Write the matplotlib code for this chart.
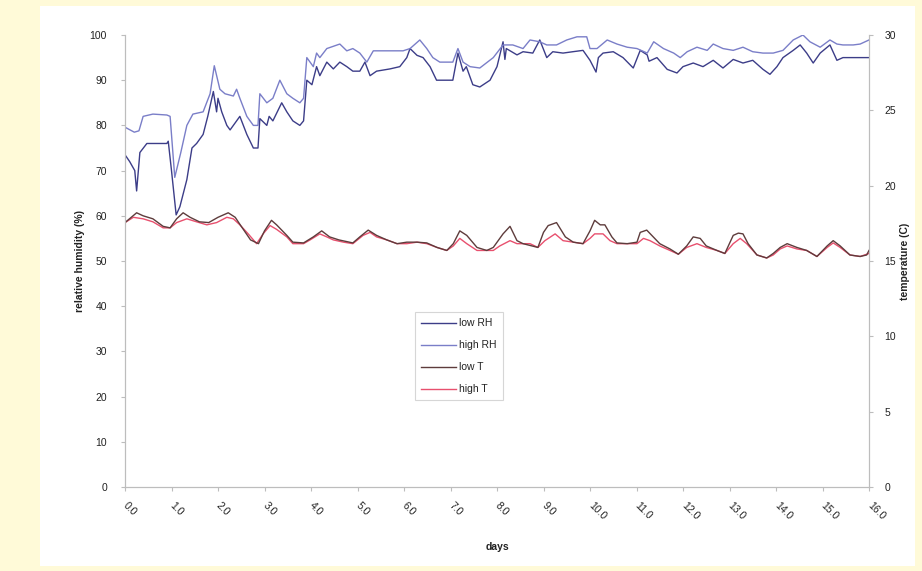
import matplotlib
matplotlib.use("Agg")
import matplotlib.pyplot as plt
from matplotlib.patches import Rectangle

plt.rcParams['font.family'] = ['Liberation Sans', 'DejaVu Sans']

# ---------------- data ----------------
high_rh_day = [0.0, 0.2, 0.3, 0.39, 0.6, 0.9, 0.97, 1.07, 1.2, 1.33, 1.46, 1.68, 1.83, 1.92,
               2.04, 2.15, 2.33, 2.4, 2.47, 2.62, 2.76, 2.86, 2.9, 3.05, 3.18, 3.33, 3.48,
               3.61, 3.76, 3.84, 3.91, 4.05, 4.12, 4.19, 4.34, 4.48, 4.62, 4.77, 4.9, 5.05,
               5.2, 5.34, 5.55, 5.76, 5.98, 6.13, 6.34, 6.49, 6.62, 6.77, 7.05, 7.16, 7.27,
               7.42, 7.63, 7.92, 8.13, 8.34, 8.56, 8.71, 8.92, 9.07, 9.28, 9.5, 9.72, 9.93,
               10.0, 10.15, 10.37, 10.58, 10.8, 11.01, 11.23, 11.37, 11.58, 11.8, 11.94,
               12.09, 12.3, 12.52, 12.65, 12.86, 13.08, 13.29, 13.5, 13.72, 13.94, 14.15,
               14.37, 14.58, 14.73, 14.95, 15.16, 15.31, 15.44, 15.66, 15.81, 16.0]
high_rh = [79.6, 78.5, 78.8, 82.0, 82.5, 82.3, 82.0, 68.5, 74.0, 80.0, 82.5, 83.0, 87.0, 93.2,
           88.0, 87.0, 86.5, 88.0, 86.0, 82.0, 80.0, 80.0, 87.0, 85.0, 86.0, 90.0, 87.0,
           86.0, 85.0, 86.0, 95.0, 93.0, 96.0, 95.0, 97.0, 97.5, 98.0, 96.5, 97.0, 96.0,
           94.0, 96.5, 96.5, 96.5, 96.5, 97.0, 98.9, 97.0, 95.0, 94.0, 94.0, 97.0, 94.0,
           93.0, 92.7, 95.0, 97.8, 97.8, 97.0, 98.9, 98.5, 97.8, 97.8, 98.9, 99.6, 99.6,
           97.0, 97.0, 98.9, 98.0, 97.3, 97.0, 96.0, 98.5, 97.0, 96.0, 95.0,
           96.3, 97.3, 96.6, 98.0, 97.0, 96.6, 97.3, 96.3, 96.0, 96.0, 96.6,
           98.9, 100.0, 98.5, 97.3, 98.9, 98.0, 97.8, 97.8, 98.0, 98.9]

low_rh_day = [0.0, 0.1, 0.21, 0.25, 0.32, 0.47, 0.9, 0.93, 1.0, 1.1, 1.18, 1.33, 1.44, 1.54,
              1.68, 1.78, 1.9, 1.97, 2.0, 2.08, 2.19, 2.26, 2.4, 2.47, 2.62, 2.76, 2.86,
              2.9, 3.05, 3.1, 3.18, 3.37, 3.48, 3.61, 3.76, 3.84, 3.91, 4.02, 4.12, 4.19,
              4.34, 4.48, 4.62, 4.77, 4.9, 5.05, 5.16, 5.27, 5.41, 5.7, 5.91, 6.06, 6.13,
              6.28, 6.41, 6.56, 6.7, 6.92, 7.05, 7.16, 7.27, 7.34, 7.48, 7.63, 7.85, 8.0,
              8.13, 8.17, 8.2, 8.43, 8.56, 8.77, 8.92, 9.07, 9.2, 9.42, 9.63, 9.85, 10.0,
              10.13, 10.18, 10.28, 10.5, 10.71, 10.93, 11.08, 11.23, 11.27, 11.44, 11.66,
              11.87, 12.0, 12.22, 12.43, 12.65, 12.86, 13.08, 13.29, 13.5, 13.72, 13.87,
              14.02, 14.15, 14.37, 14.52, 14.66, 14.8, 14.95, 15.16, 15.31, 15.44, 15.66,
              15.87, 16.0]
low_rh = [73.5, 72.0, 70.0, 65.5, 74.0, 76.0, 76.0, 76.5, 70.0, 60.2, 62.0, 68.0, 75.0, 76.0,
          78.0, 82.0, 87.5, 83.0, 86.0, 83.0, 80.0, 79.0, 81.0, 82.0, 78.0, 75.0, 75.0,
          81.5, 80.0, 82.0, 81.0, 85.0, 83.0, 81.0, 80.0, 81.0, 90.0, 89.0, 93.0, 91.0,
          94.0, 92.5, 94.0, 93.0, 92.0, 92.0, 94.0, 91.0, 92.0, 92.5, 93.0, 95.0, 97.0,
          95.5, 95.0, 93.0, 90.0, 90.0, 90.0, 96.0, 92.0, 93.0, 89.0, 88.5, 90.0, 93.0,
          98.5, 94.6, 97.0, 95.6, 96.3, 96.0, 98.9, 95.0, 96.3, 96.0, 96.3, 96.6, 94.4,
          91.8, 95.0, 96.0, 96.3, 95.0, 92.7, 96.6, 95.6, 94.2, 95.0, 92.4,
          91.6, 93.0, 93.8, 93.0, 94.4, 92.7, 94.6, 93.8, 94.4, 92.4, 91.3,
          93.0, 95.0, 96.6, 97.8, 96.0, 93.8, 96.0, 97.8, 94.4, 95.0, 95.0,
          95.0, 95.0]

high_t_day = [0.0, 0.18, 0.39, 0.6, 0.82, 0.97, 1.11, 1.33, 1.54, 1.76, 1.97, 2.19, 2.33,
              2.47, 2.65, 2.83, 2.97, 3.12, 3.26, 3.48, 3.61, 3.84, 3.98, 4.19, 4.34, 4.48,
              4.7, 4.9, 5.12, 5.27, 5.41, 5.63, 5.85, 6.06, 6.28, 6.49, 6.71, 6.92, 7.06,
              7.2, 7.35, 7.57, 7.78, 7.92, 8.06, 8.28, 8.43, 8.71, 8.88, 9.03, 9.25, 9.42,
              9.64, 9.85, 10.0, 10.1, 10.28, 10.43, 10.58, 10.8, 11.01, 11.15, 11.29, 11.5,
              11.72, 11.9, 12.08, 12.3, 12.5, 12.73, 12.9, 13.08, 13.23, 13.37, 13.59, 13.8,
              13.94, 14.09, 14.24, 14.45, 14.66, 14.88, 15.1, 15.23, 15.38, 15.59, 15.81, 16.0]
high_t = [17.55, 17.9, 17.8, 17.6, 17.2, 17.2, 17.55, 17.8, 17.6, 17.4, 17.55, 17.9, 17.8,
          17.4, 16.8, 16.15, 16.8, 17.35, 17.1, 16.6, 16.15, 16.15, 16.4, 16.8, 16.6, 16.4,
          16.25, 16.15, 16.7, 16.9, 16.6, 16.4, 16.15, 16.15, 16.25, 16.15, 15.9, 15.7, 16.0,
          16.5, 16.15, 15.7, 15.7, 15.7, 16.0, 16.35, 16.15, 16.15, 15.9, 16.35, 16.8, 16.35,
          16.25, 16.15, 16.5, 16.8, 16.8, 16.35, 16.15, 16.15, 16.15, 16.5, 16.35, 16.0,
          15.7, 15.45, 15.9, 16.15, 15.9, 15.7, 15.5, 16.15, 16.5, 16.15, 15.4, 15.2,
          15.4, 15.8, 16.0, 15.8, 15.7, 15.3, 15.9, 16.2, 15.9, 15.4, 15.3, 15.5]

low_t_day = [0.0, 0.25, 0.39, 0.6, 0.82, 0.97, 1.11, 1.25, 1.4, 1.6, 1.8, 2.0, 2.22, 2.37,
             2.5, 2.7, 2.87, 3.0, 3.15, 3.26, 3.48, 3.61, 3.84, 4.05, 4.23, 4.4, 4.6, 4.9,
             5.05, 5.23, 5.41, 5.63, 5.85, 6.06, 6.28, 6.49, 6.71, 6.92, 7.06, 7.2, 7.35,
             7.57, 7.78, 7.92, 8.13, 8.28, 8.43, 8.56, 8.88, 9.0, 9.1, 9.28, 9.47, 9.64,
             9.85, 10.0, 10.1, 10.22, 10.32, 10.47, 10.58, 10.8, 11.01, 11.08, 11.22, 11.36,
             11.5, 11.72, 11.9, 12.08, 12.22, 12.37, 12.5, 12.73, 12.9, 13.08, 13.19, 13.29,
             13.4, 13.59, 13.8, 13.94, 14.09, 14.24, 14.45, 14.66, 14.88, 15.1, 15.23, 15.38,
             15.59, 15.81, 15.95, 16.0]
low_t = [17.55, 18.2, 18.0, 17.8, 17.3, 17.2, 17.8, 18.2, 17.9, 17.6, 17.55, 17.9, 18.2,
         17.9, 17.3, 16.4, 16.15, 17.0, 17.7, 17.4, 16.7, 16.25, 16.2, 16.6, 17.0, 16.6,
         16.4, 16.2, 16.6, 17.05, 16.7, 16.4, 16.15, 16.25, 16.25, 16.2, 15.9, 15.7, 16.15,
         17.0, 16.7, 15.9, 15.7, 15.9, 16.8, 17.3, 16.35, 16.15, 15.9, 16.9, 17.35, 17.55,
         16.6, 16.25, 16.15, 17.0, 17.7, 17.4, 17.4, 16.6, 16.2, 16.15, 16.25, 16.9, 17.05,
         16.6, 16.15, 15.8, 15.45, 16.0, 16.6, 16.5, 16.0, 15.7, 15.5, 16.7, 16.85, 16.8,
         16.15, 15.4, 15.2, 15.5, 15.9, 16.15, 15.9, 15.7, 15.3, 16.0, 16.35, 16.0,
         15.4, 15.3, 15.4, 15.7]

day_ticks = list(range(0, 17))
day_labels = [f"{d:.1f}" for d in day_ticks]
rh_ticks = list(range(0, 101, 10))
t_ticks = list(range(0, 31, 5))

# ---------------- styling ----------------
bg_yellow = '#FFFAD8'
c_low_rh = '#3c3d88'
c_high_rh = '#7a7ec8'
c_low_t = '#5e3c3c'
c_high_t = '#e8506e'
axis_grey = '#bdbdbd'
txt = '#222222'

fig = plt.figure(figsize=(9.22, 5.71), dpi=100, facecolor=bg_yellow)

# white panel behind the chart
bg_ax = fig.add_axes([0, 0, 1, 1], zorder=-10)
bg_ax.set_xlim(0, 922)
bg_ax.set_ylim(571, 0)
bg_ax.axis('off')
bg_ax.add_patch(Rectangle((40, 6), 915 - 40, 566 - 6, facecolor='white', edgecolor='none'))

left, right = 125 / 922, 869 / 922
bottom, top = 1 - 487 / 571, 1 - 35 / 571
ax = fig.add_axes([left, bottom, right - left, top - bottom])
ax.set_facecolor('none')
ax2 = ax.twinx()

l1, = ax.plot(low_rh_day, low_rh, color=c_low_rh, lw=1.0, label='low RH')
l2, = ax.plot(high_rh_day, high_rh, color=c_high_rh, lw=1.0, label='high RH')
l4, = ax2.plot(high_t_day, high_t, color=c_high_t, lw=1.0, label='high T')
l3, = ax2.plot(low_t_day, low_t, color=c_low_t, lw=1.0, label='low T')

ax.set_xlim(0, 16)
ax.set_ylim(0, 100)
ax2.set_ylim(0, 30)

ax.set_yticks(rh_ticks)
ax2.set_yticks(t_ticks)
ax.set_xticks(day_ticks)
ax.set_xticklabels(day_labels, rotation=-45, ha='left', va='center',
                   rotation_mode='anchor')

for a in (ax, ax2):
    for s in a.spines.values():
        s.set_color(axis_grey)
        s.set_linewidth(0.8)
    a.spines['top'].set_visible(False)
    a.tick_params(colors=axis_grey, labelcolor=txt, labelsize=7.5, length=3, width=0.8)

ax.tick_params(axis='x', pad=9)
ax.tick_params(axis='y', pad=10)
ax2.tick_params(axis='y', pad=8)

ax.set_ylabel('relative humidity (%)', fontsize=7.5, fontweight='bold', color=txt,
              labelpad=3)
ax2.set_ylabel('temperature (C)', fontsize=7.5, fontweight='bold', color=txt,
               rotation=90, labelpad=3)
ax.set_xlabel('days', fontsize=7.5, fontweight='bold', color=txt, labelpad=15)

leg = fig.legend(handles=[l1, l2, l3, l4], loc='upper left',
                 bbox_to_anchor=(415 / 922, 1 - 312 / 571), fontsize=7.5,
                 frameon=True, fancybox=False, handlelength=3.3, handletextpad=0.3,
                 borderpad=0.6, labelspacing=1.15, borderaxespad=0)
leg.get_frame().set_edgecolor('#cccccc')
leg.get_frame().set_linewidth(0.8)
for t in leg.get_texts():
    t.set_color(txt)

fig.savefig('out.png', dpi=100, facecolor=bg_yellow)
